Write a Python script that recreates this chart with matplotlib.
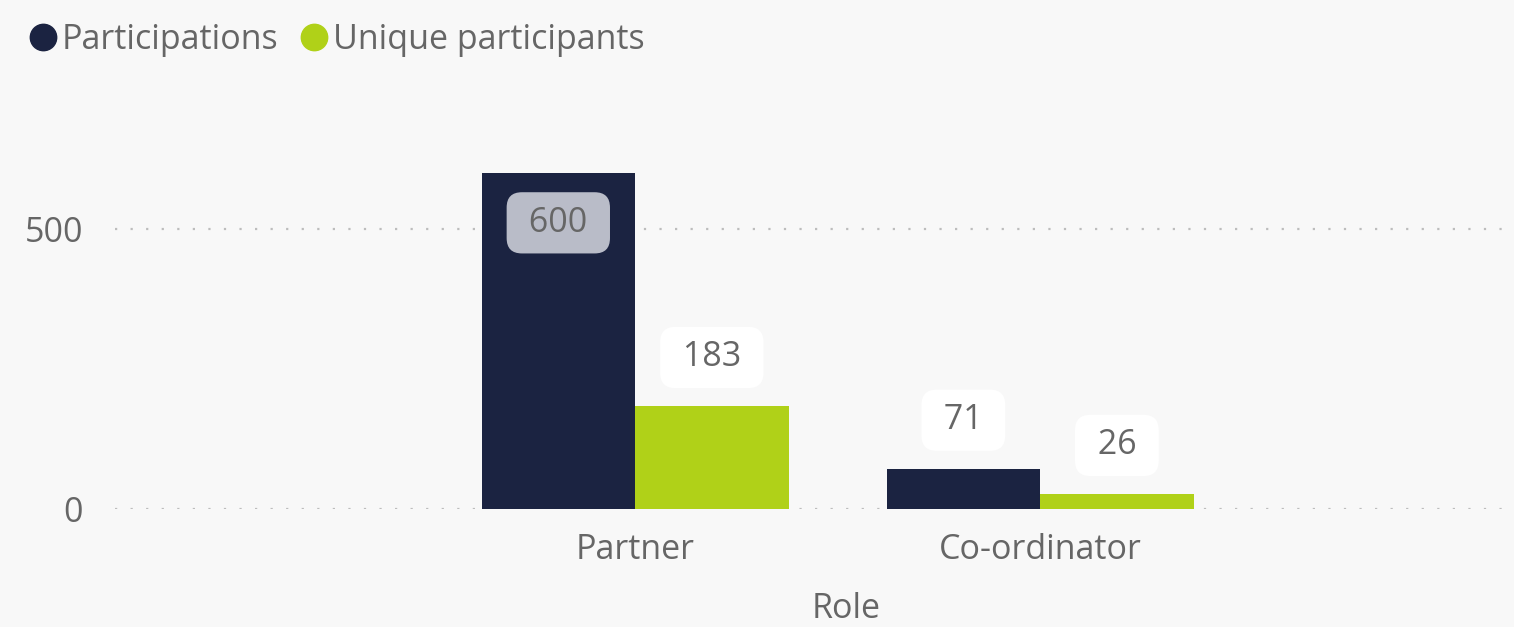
import matplotlib
matplotlib.use("Agg")
import matplotlib.pyplot as plt
from matplotlib.lines import Line2D
import numpy as np

# Datos
roles = ["Partner", "Co-ordinator"]
participations = [600, 71]
unique_participants = [183, 26]
series_names = ["Participations", "Unique participants"]
y_ticks = [0, 500]

navy = "#1b2341"
green = "#b0d118"
text_gray = "#666666"
bg = "#f8f8f8"
fs = 24.5

plt.rcParams["font.family"] = ["Open Sans", "DejaVu Sans"]

fig = plt.figure(figsize=(15.14, 6.27), dpi=100, facecolor=bg)
ax = fig.add_axes([115 / 1514, 118 / 627, 1399 / 1514, 409 / 627])
ax.set_facecolor(bg)

x = np.arange(len(roles))
w = 0.379
bars1 = ax.bar(x - w / 2, participations, width=w, color=navy, zorder=3)
bars2 = ax.bar(x + w / 2, unique_participants, width=w, color=green, zorder=3)

ax.set_xlim(-1.284, 2.170)
ax.set_ylim(0, 730)

ax.set_yticks(y_ticks)
ax.set_xticks(x)
ax.set_xticklabels(roles)
ax.tick_params(axis="y", length=0, pad=23, labelsize=fs, labelcolor=text_gray)
ax.tick_params(axis="x", length=0, pad=17, labelsize=fs, labelcolor=text_gray)
for s in ax.spines.values():
    s.set_visible(False)
ax.grid(axis="y", color="#bdbdbd", linestyle=(0, (1, 6)), linewidth=1.6, zorder=0)
ax.set_axisbelow(True)

# Etiquetas de valor (espacios para ensanchar la caja)
box_style = "round,pad=0.4,rounding_size=0.45"
for bar in bars1:
    h = bar.get_height()
    cx = bar.get_x() + bar.get_width() / 2
    inside = h > 300
    ax.annotate(f" {h:.0f} ", xy=(cx, h), xytext=(0, -50 if inside else 49),
                textcoords="offset pixels", ha="center", va="center",
                fontsize=fs, color=text_gray, zorder=5,
                bbox=dict(boxstyle=box_style,
                          fc="#b9bcc8" if inside else "white", ec="none"))
for bar in bars2:
    h = bar.get_height()
    cx = bar.get_x() + bar.get_width() / 2
    ax.annotate(f" {h:.0f} ", xy=(cx, h), xytext=(0, 49),
                textcoords="offset pixels", ha="center", va="center",
                fontsize=fs, color=text_gray, zorder=5,
                bbox=dict(boxstyle=box_style, fc="white", ec="none"))

fig.text(846 / 1514, 18 / 627, "Role", ha="center", va="center",
         fontsize=fs, color=text_gray)

handles = [Line2D([], [], marker="o", linestyle="none", markersize=19,
                  markerfacecolor=c, markeredgecolor=c) for c in (navy, green)]
fig.legend(handles, series_names, loc="upper left", bbox_to_anchor=(-0.004, 1.012),
           frameon=False, ncol=2, handletextpad=0.0, columnspacing=0.5,
           handlelength=1.1, fontsize=fs, labelcolor=text_gray)

fig.savefig("out.png", dpi=100, facecolor=bg)
